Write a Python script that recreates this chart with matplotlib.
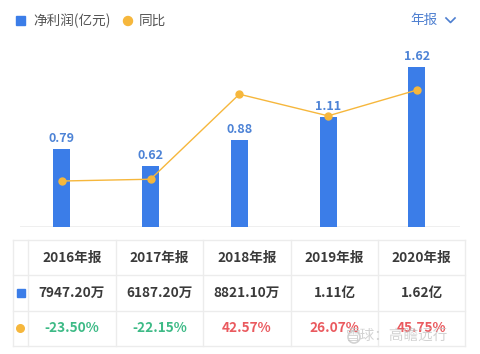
import matplotlib
matplotlib.use("Agg")
import matplotlib.pyplot as plt
from matplotlib.lines import Line2D
from matplotlib.patches import Rectangle, Circle

plt.rcParams["font.family"] = ["Noto Sans CJK SC", "DejaVu Sans"]

years = ["2016年报", "2017年报", "2018年报", "2019年报", "2020年报"]
profit = [0.79, 0.62, 0.88, 1.11, 1.62]
yoy = [-23.50, -22.15, 42.57, 26.07, 45.75]
profit_text = ["7947.20万", "6187.20万", "8821.10万", "1.11亿", "1.62亿"]
yoy_text = ["-23.50%", "-22.15%", "42.57%", "26.07%", "45.75%"]

BLUE = "#3b7de8"
LABEL_BLUE = "#4d83d6"
ORANGE = "#f6b73c"
GREEN = "#3dba86"
RED = "#ea5a5f"
GRID = "#ececec"

W, H = 480, 354
fig = plt.figure(figsize=(4.8, 3.54), dpi=100)

# chart area
ax = fig.add_axes([20 / W, 1 - 227 / H, 440 / W, 167 / H])
x = list(range(len(years)))
ax.bar(x, profit, width=0.19, color=BLUE, zorder=2)
for xi, v in zip(x, profit):
    ax.text(xi, v + 0.04, f"{v:.2f}", ha="center", va="bottom",
            fontsize=9, fontweight="bold", color=LABEL_BLUE, zorder=3)
ax.set_xlim(-0.47, 4.485)
ax.set_ylim(0, 1.69)
ax.axis("off")
ax.axhline(0, color=GRID, lw=1.2, zorder=1)

ax2 = ax.twinx()
ax2.plot(x, yoy, color=ORANGE, lw=1.0, marker="o", ms=5, zorder=4)
ax2.set_ylim(-58.5, 68.6)
ax2.axis("off")

# overlay in pixel coordinates for legend and table
ov = fig.add_axes([0, 0, 1, 1])
ov.set_xlim(0, W)
ov.set_ylim(H, 0)
ov.axis("off")

# legend
ov.add_patch(Rectangle((16, 16), 9, 9, color=BLUE))
ov.text(33, 21, "净利润(亿元)", va="center", ha="left", fontsize=9.8, color="#555555")
ov.add_patch(Circle((128, 21), 4.5, color=ORANGE))
ov.text(139, 21, "同比", va="center", ha="left", fontsize=9.8, color="#555555")
ov.text(410, 20, "年报", va="center", ha="left", fontsize=9.8, color="#4d7fd0")
ov.plot([446, 450.5, 455], [18, 22.5, 18], color="#4d7fd0", lw=1.2)

# table
col_edges = [13, 28, 116, 203, 291, 378, 465]
row_edges = [240, 275, 311, 346]
for y in row_edges:
    ov.add_line(Line2D([col_edges[0], col_edges[-1]], [y, y], color=GRID, lw=1))
for cx in col_edges:
    ov.add_line(Line2D([cx, cx], [row_edges[0], row_edges[-1]], color=GRID, lw=1))

row_mid = [(row_edges[i] + row_edges[i + 1]) / 2 for i in range(3)]
ov.add_patch(Rectangle((16.5, row_mid[1] - 4), 8, 8, color=BLUE))
ov.add_patch(Circle((20.5, row_mid[2]), 3.8, color=ORANGE))

for i in range(len(years)):
    cx = (col_edges[i + 1] + col_edges[i + 2]) / 2
    ov.text(cx, row_mid[0], years[i], ha="center", va="center",
            fontsize=9.8, color="#3a3a3a", fontweight="bold")
    ov.text(cx, row_mid[1], profit_text[i], ha="center", va="center",
            fontsize=9.8, color="#3a3a3a", fontweight="bold")
    ov.text(cx, row_mid[2], yoy_text[i], ha="center", va="center",
            fontsize=9.8, color=GREEN if yoy[i] < 0 else RED, fontweight="bold")

# watermark
ov.text(448, 337, "雪球：高瞻远行", ha="right", va="center", fontsize=10.5,
        color="#c4c4c4", alpha=0.75)
ov.add_patch(Circle((354, 337), 6, fill=False, ec="#c4c4c4", lw=1.2, alpha=0.75))

fig.savefig("out.png", dpi=100)
